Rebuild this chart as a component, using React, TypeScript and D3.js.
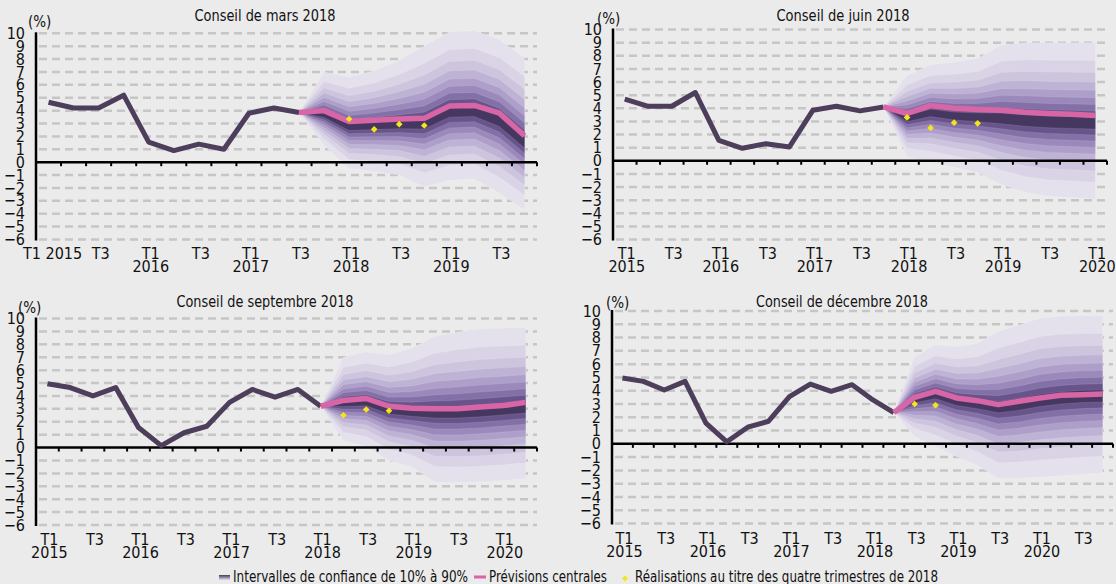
import { useEffect, useRef } from "react";
import * as d3 from "d3";

// quarters shared by the four panels (each panel uses the first n)
const quarters = [
  "T1 2015", "T2 2015", "T3 2015", "T4 2015",
  "T1 2016", "T2 2016", "T3 2016", "T4 2016",
  "T1 2017", "T2 2017", "T3 2017", "T4 2017",
  "T1 2018", "T2 2018", "T3 2018", "T4 2018",
  "T1 2019", "T2 2019", "T3 2019", "T4 2019",
  "T1 2020", "T2 2020", "T3 2020", "T4 2020",
];
const yTicks = [-6, -5, -4, -3, -2, -1, 0, 1, 2, 3, 4, 5, 6, 7, 8, 9, 10];

// confidence intervals, outer to inner, with their standard normal half-widths
const confidenceLevels = [90, 80, 70, 60, 50, 40, 30, 20, 10];
const levelZ = [1.645, 1.282, 1.036, 0.842, 0.674, 0.524, 0.385, 0.253, 0.126];

// Conseil de mars 2018
const marsHistory = [4.65, 4.2, 4.2, 5.2, 1.55, 0.9, 1.4, 1.0, 3.8, 4.2, 3.85];
const marsCentral = [3.85, 4.0, 3.15, 3.25, 3.35, 3.4, 4.35, 4.4, 3.8, 2.05];
const marsMid = [3.85, 3.65, 2.7, 2.8, 2.9, 2.95, 3.9, 3.95, 3.2, 1.5];
const marsHigh90 = [3.85, 7.0, 6.6, 7.1, 7.9, 9.0, 10.1, 10.2, 9.5, 8.1];
const marsLow90 = [3.85, 1.3, -0.5, -0.7, -1.0, -1.9, -1.4, -1.3, -2.4, -3.7];
const marsActual = [3.35, 2.55, 2.95, 2.85];

// Conseil de juin 2018
const juinHistory = [4.7, 4.15, 4.15, 5.2, 1.55, 0.95, 1.3, 1.05, 3.85, 4.15, 3.8, 4.1];
const juinCentral = [4.1, 3.6, 4.2, 4.0, 3.9, 3.85, 3.7, 3.6, 3.55, 3.45];
const juinMid = [4.1, 3.2, 3.65, 3.4, 3.3, 3.2, 3.05, 2.95, 2.9, 2.85];
const juinHigh90 = [4.1, 6.5, 7.3, 7.5, 7.8, 8.8, 9.0, 9.0, 9.0, 9.0];
const juinLow90 = [4.1, 0.3, -0.1, -0.5, -0.9, -1.8, -2.4, -2.7, -2.8, -2.9];
const juinActual = [3.3, 2.5, 2.9, 2.85];

// Conseil de septembre 2018
const septHistory = [4.95, 4.65, 4.0, 4.65, 1.55, 0.15, 1.15, 1.65, 3.5, 4.5, 3.9, 4.5, 3.2];
const septCentral = [3.2, 3.65, 3.8, 3.2, 3.05, 3.0, 3.0, 3.15, 3.25, 3.5];
const septMid = [3.2, 3.4, 3.5, 2.9, 2.75, 2.7, 2.7, 2.8, 2.95, 3.1];
const septHigh90 = [3.2, 7.0, 7.4, 7.2, 7.7, 8.6, 8.95, 9.2, 9.25, 9.3];
const septLow90 = [3.2, 0.55, 0.1, -1.0, -1.5, -2.65, -2.7, -2.65, -2.55, -2.4];
const septActual = [2.5, 2.95, 2.85];

// Conseil de décembre 2018
const decHistory = [4.95, 4.7, 4.05, 4.7, 1.55, 0.15, 1.25, 1.7, 3.55, 4.5, 3.95, 4.45, 3.3, 2.35];
const decCentral = [2.35, 3.5, 3.95, 3.45, 3.25, 2.95, 3.2, 3.45, 3.65, 3.7, 3.75];
const decMid = [2.35, 3.3, 3.7, 3.2, 3.0, 2.75, 2.95, 3.25, 3.45, 3.55, 3.6];
const decHigh90 = [2.35, 6.55, 7.45, 7.3, 7.55, 8.45, 8.95, 9.45, 9.6, 9.65, 9.65];
const decLow90 = [2.35, 0.55, -0.2, -0.95, -1.6, -2.6, -2.6, -2.5, -2.4, -2.3, -2.2];
const decActual = [3.0, 2.9];

const panelTitles = [
  "Conseil de mars 2018",
  "Conseil de juin 2018",
  "Conseil de septembre 2018",
  "Conseil de décembre 2018",
];

const legendLabels = [
  "Intervalles de confiance de 10% à 90%",
  "Prévisions centrales",
  "Réalisations au titre des quatre trimestres de 2018",
];

const panels = [
  { nQuarters: 20, history: marsHistory, central: marsCentral, mid: marsMid, high: marsHigh90, low: marsLow90, actual: marsActual, actualStart: 12 },
  { nQuarters: 21, history: juinHistory, central: juinCentral, mid: juinMid, high: juinHigh90, low: juinLow90, actual: juinActual, actualStart: 12 },
  { nQuarters: 22, history: septHistory, central: septCentral, mid: septMid, high: septHigh90, low: septLow90, actual: septActual, actualStart: 13 },
  { nQuarters: 24, history: decHistory, central: decCentral, mid: decMid, high: decHigh90, low: decLow90, actual: decActual, actualStart: 14 },
];

const layout = [
  { left: 36, right: 537, top: 33.3, bottom: 239.5, titleX: 265, titleY: 21, titleW: 141, pctX: 28, pctY: 27, lab1: 259, lab2: 272 },
  { left: 613, right: 1107, top: 29.5, bottom: 239.5, titleX: 843, titleY: 21, titleW: 133, pctX: 597, pctY: 24, lab1: 259, lab2: 272 },
  { left: 36, right: 537, top: 318.5, bottom: 525, titleX: 265, titleY: 307, titleW: 177, pctX: 18, pctY: 313, lab1: 545, lab2: 558 },
  { left: 612, right: 1113, top: 311, bottom: 523.5, titleX: 842, titleY: 307, titleW: 172, pctX: 606, pctY: 308, lab1: 543.5, lab2: 556.5 },
];

const FONT = "'Liberation Sans Narrow', 'DejaVu Sans Condensed', 'Arial Narrow', sans-serif";
const BG = "#ebebeb";
const HIST_COLOR = "#4d3e5b";
const PINK = "#d865a6";
const YELLOW = "#f2e51c";
const fanColors = ["#e4e0ec", "#dad3e6", "#cdc4de", "#bfb3d5", "#ad9fc9", "#9a89ba", "#8370a7", "#68548a", "#463760"];

export default function App() {
  const svgRef = useRef<SVGSVGElement>(null);

  useEffect(() => {
    if (!svgRef.current) return;
    const svg = d3.select(svgRef.current);
    svg.selectAll("*").remove();

    svg.append("rect").attr("width", 1116).attr("height", 584).attr("fill", BG);

    const defs = svg.append("defs");
    const grad = defs
      .append("linearGradient")
      .attr("id", "fanGrad")
      .attr("x1", 0).attr("y1", 0).attr("x2", 0).attr("y2", 1);
    grad.append("stop").attr("offset", "0%").attr("stop-color", fanColors[8]);
    grad.append("stop").attr("offset", "100%").attr("stop-color", fanColors[0]);

    panels.forEach((p, pi) => {
      const L = layout[pi];
      const g = svg.append("g").attr("font-family", FONT);
      const cats = quarters.slice(0, p.nQuarters);
      const x = d3.scaleBand<string>().domain(cats).range([L.left, L.right]).padding(0);
      const bw = x.bandwidth();
      const cx = (i: number) => (x(cats[i]) ?? 0) + bw / 2;
      const y = d3.scaleLinear().domain([-6, 10]).range([L.bottom, L.top]);

      // dashed gridlines
      g.selectAll(".grid")
        .data(yTicks.filter((t) => t !== 0))
        .join("line")
        .attr("x1", L.left + 3)
        .attr("x2", L.right)
        .attr("y1", (d) => y(d))
        .attr("y2", (d) => y(d))
        .attr("stroke", "#c6c6c6")
        .attr("stroke-width", 2.5)
        .attr("stroke-dasharray", "8 5");

      // fan chart
      const start = p.history.length - 1;
      const idx = p.central.map((_, i) => start + i);
      confidenceLevels.forEach((lvl, li) => {
        const k = levelZ[li] / levelZ[0];
        const area = d3
          .area<number>()
          .x((i) => cx(idx[i]))
          .y0((i) => y(p.mid[i] - (p.mid[i] - p.low[i]) * k))
          .y1((i) => y(p.mid[i] + (p.high[i] - p.mid[i]) * k));
        g.append("path")
          .datum(idx.map((_, i) => i))
          .attr("fill", fanColors[li])
          .attr("stroke", "#ffffff")
          .attr("stroke-opacity", 0.18)
          .attr("stroke-width", 0.6)
          .attr("data-level", lvl)
          .attr("d", area);
      });

      // y axis labels
      const yAxis = g
        .append("g")
        .attr("transform", `translate(${L.left},0)`)
        .call(d3.axisLeft(y).tickValues(yTicks).tickSize(0).tickPadding(11).tickFormat(d3.format("d")));
      yAxis.select(".domain").remove();
      yAxis.selectAll("text").attr("font-size", 16).attr("fill", "#111").attr("font-family", FONT);

      g.append("line")
        .attr("x1", L.left).attr("x2", L.left)
        .attr("y1", y(10) - 1).attr("y2", y(-6) + 1)
        .attr("stroke", "#000").attr("stroke-width", 2.5);

      // zero line and quarter ticks
      g.append("line")
        .attr("x1", L.left).attr("x2", L.right)
        .attr("y1", y(0)).attr("y2", y(0))
        .attr("stroke", "#000").attr("stroke-width", 2.5);
      g.selectAll(".qtick")
        .data(cats)
        .join("line")
        .attr("x1", (d) => (x(d) ?? 0) + bw)
        .attr("x2", (d) => (x(d) ?? 0) + bw)
        .attr("y1", y(0))
        .attr("y2", y(0) + 4)
        .attr("stroke", "#000")
        .attr("stroke-width", 2);

      // history and central forecast
      const line = d3.line<[number, number]>().x((d) => cx(d[0])).y((d) => y(d[1]));
      g.append("path")
        .datum(p.history.map((v, i) => [i, v] as [number, number]))
        .attr("fill", "none")
        .attr("stroke", HIST_COLOR)
        .attr("stroke-width", 5)
        .attr("stroke-linejoin", "round")
        .attr("d", line);
      g.append("path")
        .datum(p.central.map((v, i) => [start + i, v] as [number, number]))
        .attr("fill", "none")
        .attr("stroke", PINK)
        .attr("stroke-width", 5.5)
        .attr("stroke-linejoin", "round")
        .attr("d", line);

      // 2018 outturns
      g.selectAll(".actual")
        .data(p.actual)
        .join("path")
        .attr("d", d3.symbol().type(d3.symbolSquare).size(22)())
        .attr("transform", (d, i) => `translate(${cx(p.actualStart + i)},${y(d)}) rotate(45)`)
        .attr("fill", YELLOW);

      // x labels
      cats.forEach((q, i) => {
        const [t, yr] = q.split(" ");
        if (t !== "T1" && t !== "T3") return;
        if (pi === 0 && i === 0) {
          g.append("text")
            .attr("x", L.left - 13)
            .attr("y", L.lab1)
            .attr("font-size", 16)
            .attr("fill", "#111")
            .text(q);
          return;
        }
        const tx = g
          .append("text")
          .attr("x", cx(i) + 2)
          .attr("y", L.lab1)
          .attr("text-anchor", "middle")
          .attr("font-size", 16)
          .attr("fill", "#111");
        tx.append("tspan").attr("x", cx(i) + 2).text(t);
        if (t === "T1") {
          tx.append("tspan").attr("x", cx(i) + 2).attr("y", L.lab2).text(yr);
        }
      });

      g.append("text")
        .attr("x", L.titleX - L.titleW / 2)
        .attr("y", L.titleY)
        .attr("font-size", 16)
        .attr("fill", "#111")
        .attr("textLength", L.titleW)
        .attr("lengthAdjust", "spacingAndGlyphs")
        .text(panelTitles[pi]);

      g.append("text")
        .attr("x", L.pctX)
        .attr("y", L.pctY)
        .attr("font-size", 15)
        .attr("fill", "#111")
        .text("(%)");
    });

    // legend
    const lg = svg.append("g").attr("font-family", FONT).attr("font-size", 16).attr("fill", "#111");
    const legendX = [233, 489, 635];
    const legendW = [235, 118, 303];
    lg.append("rect").attr("x", 219).attr("y", 575).attr("width", 11).attr("height", 5).attr("fill", "url(#fanGrad)");
    lg.append("rect").attr("x", 474).attr("y", 575.5).attr("width", 12).attr("height", 3).attr("fill", PINK);
    lg.append("path")
      .attr("d", d3.symbol().type(d3.symbolSquare).size(18)())
      .attr("transform", "translate(625,578.5) rotate(45)")
      .attr("fill", YELLOW);
    legendLabels.forEach((lab, i) => {
      lg.append("text")
        .attr("x", legendX[i])
        .attr("y", 582)
        .attr("textLength", legendW[i])
        .attr("lengthAdjust", "spacingAndGlyphs")
        .text(lab);
    });
  }, []);

  return (
    <svg
      ref={svgRef}
      width={1116}
      height={584}
      style={{ position: "absolute", left: 0, top: 0, display: "block" }}
    />
  );
}
